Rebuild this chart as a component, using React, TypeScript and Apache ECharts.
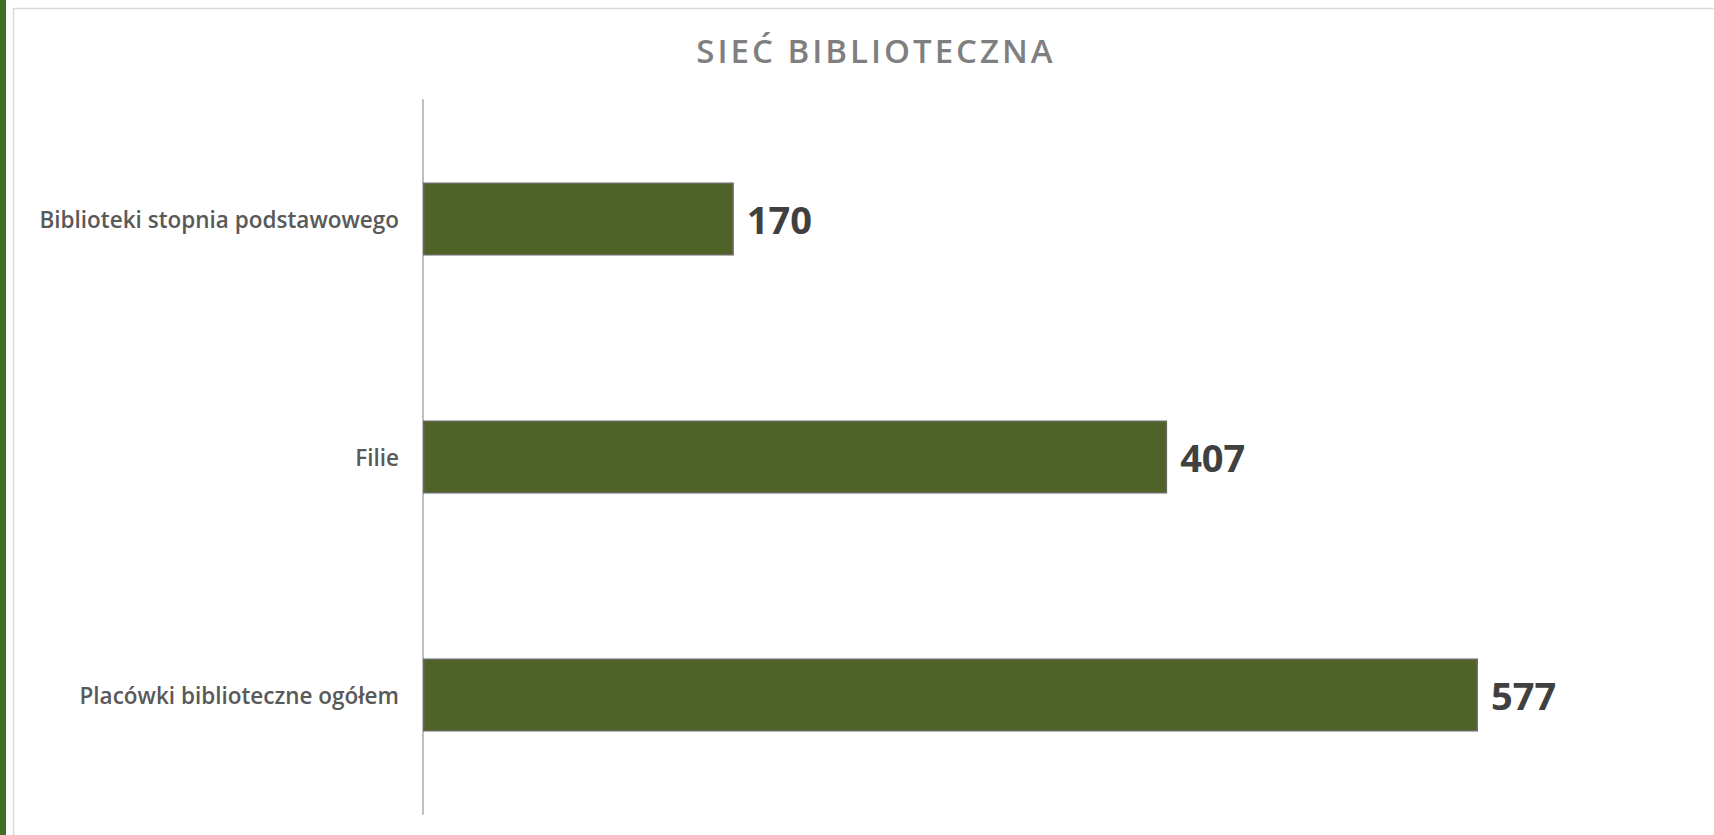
import React, { useEffect, useRef } from "react";
import * as echarts from "echarts";

const title = "SIEĆ BIBLIOTECZNA";
const categories = [
  "Biblioteki stopnia podstawowego",
  "Filie",
  "Placówki biblioteczne ogółem",
];
const values = [170, 407, 577];
const xMax = 600;

export default function App() {
  const ref = useRef<HTMLDivElement>(null);

  useEffect(() => {
    if (!ref.current) return;
    const el = ref.current;
    const chart = echarts.init(el, null, { renderer: "svg" });
    const spaceTitle = () => {
      el.querySelectorAll("text").forEach((t) => {
        if (t.textContent === title) {
          t.setAttribute("letter-spacing", "3px");
        }
      });
    };
    chart.on("finished", spaceTitle);
    chart.setOption({
      animation: false,
      backgroundColor: "#ffffff",
      title: {
        text: title,
        left: 871,
        top: 29,
        textAlign: "center",
        textStyle: {
          fontFamily: "Open Sans",
          fontWeight: 600,
          fontSize: 33,
          color: "#7f7f7f",
        },
      },
      graphic: [
        {
          type: "rect",
          shape: { x: 0, y: 0, width: 6, height: 835 },
          style: { fill: "#3f7028" },
          silent: true,
        },
        {
          type: "line",
          shape: { x1: 13, y1: 8.5, x2: 1714, y2: 8.5 },
          style: { stroke: "#d9d9d9", lineWidth: 1.5 },
          silent: true,
        },
        {
          type: "line",
          shape: { x1: 13.5, y1: 8, x2: 13.5, y2: 835 },
          style: { stroke: "#d9d9d9", lineWidth: 1.5 },
          silent: true,
        },
      ],
      grid: {
        left: 423,
        top: 100,
        height: 714,
        width: 1097,
        containLabel: false,
      },
      xAxis: {
        type: "value",
        min: 0,
        max: xMax,
        show: false,
        splitLine: { show: false },
      },
      yAxis: {
        type: "category",
        data: categories,
        inverse: true,
        axisLine: { show: true, lineStyle: { color: "#bfbfbf", width: 2 } },
        axisTick: { show: false },
        axisLabel: {
          margin: 24,
          fontFamily: "Open Sans",
          fontWeight: 600,
          fontSize: 22.5,
          color: "#595959",
        },
        splitLine: { show: false },
      },
      series: [
        {
          type: "bar",
          data: values,
          barWidth: 73,
          itemStyle: {
            color: "#4f6228",
            borderColor: "#6a6a60",
            borderWidth: 1.5,
          },
          label: {
            show: true,
            position: "right",
            distance: 13,
            fontFamily: "Open Sans",
            fontWeight: "bold",
            fontSize: 38,
            color: "#404040",
          },
        },
      ],
    });
    spaceTitle();
    return () => chart.dispose();
  }, []);

  return (
    <div
      ref={ref}
      style={{
        position: "absolute",
        left: 0,
        top: 0,
        width: 1714,
        height: 835,
        background: "#ffffff",
      }}
    />
  );
}
